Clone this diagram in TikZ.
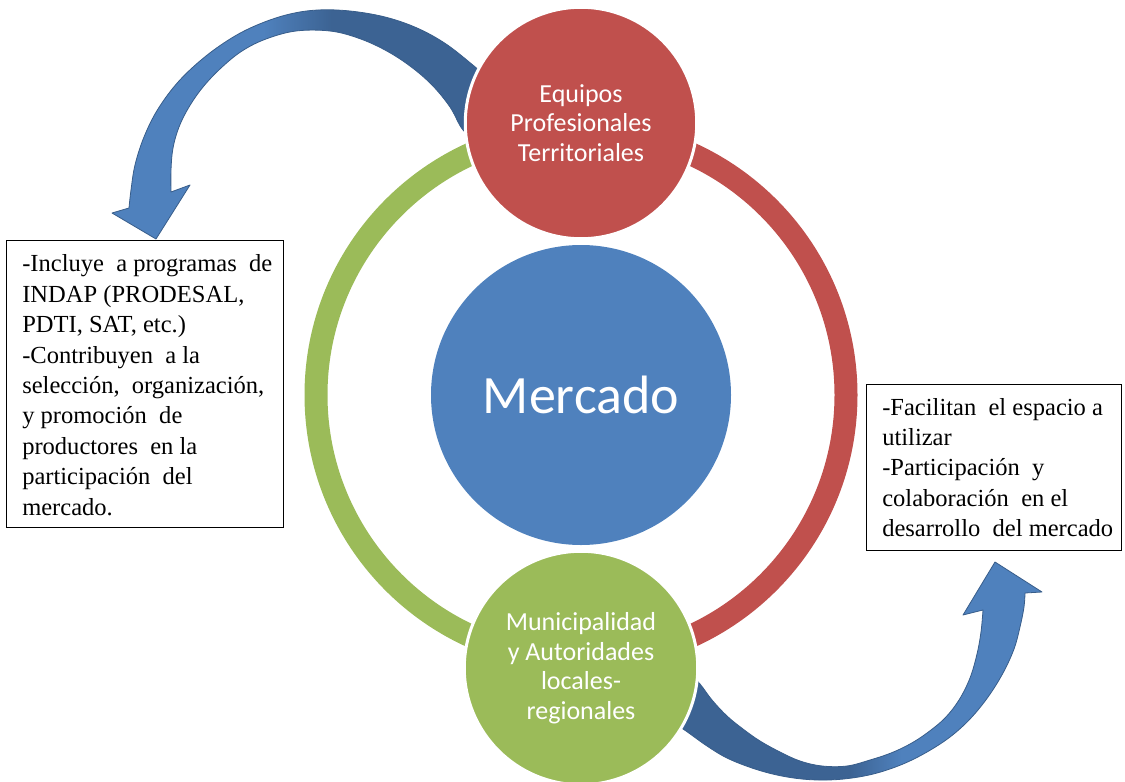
\documentclass[tikz,border=0pt]{standalone}
\usepackage{fontspec}
\setmainfont{Liberation Serif}
\newfontfamily\calibri{Carlito}
\newfontfamily\notefont{Liberation Serif}
\definecolor{ringred}{HTML}{C0504D}
\definecolor{ringgreen}{HTML}{9BBB59}
\definecolor{hubblue}{HTML}{4F81BD}
\definecolor{arrowdark}{HTML}{3C6393}
\definecolor{arrowedge}{HTML}{385D8A}
\pgfdeclarehorizontalshading{fadeleft}{100bp}{color(0bp)=(hubblue); color(45bp)=(hubblue); color(54bp)=(arrowdark); color(100bp)=(arrowdark)}
\pgfdeclarehorizontalshading{faderight}{100bp}{color(0bp)=(arrowdark); color(49bp)=(arrowdark); color(56bp)=(hubblue); color(100bp)=(hubblue)}
\begin{document}
\begin{tikzpicture}[x=0.75pt,y=0.75pt,yscale=-1,xscale=1,
	bubble/.style={circle,draw=white,line width=2.25pt,text=white,align=center,inner sep=0pt,font=\calibri\fontsize{19.5}{22.1}\selectfont},
	ringarc/.style={line width=17.25pt},
	notebox/.style={rectangle,draw=black,line width=1.1pt,inner sep=0pt,anchor=north west},
	notetext/.style={anchor=north west,inner sep=0pt,align=left,font=\notefont\fontsize{18.4}{22.8}\selectfont},
	bendarrow/.style={draw=arrowedge,line width=0.6pt,line join=round}]
	\useasboundingbox (0,0) rectangle (1125,782);

	\draw[ringarc,ringgreen] (581,395) ++(90:265) arc[start angle=90,end angle=270,radius=265];
	\draw[ringarc,ringred] (581,395) ++(-90:265) arc[start angle=-90,end angle=90,radius=265];

	\shadedraw[bendarrow,shading=fadeleft] plot[smooth,tension=0.6] coordinates {(490,80) (474,66) (446,44) (417,28) (385,17) (350,11) (318,10) (290,14) (262,23) (235,36) (206,56) (179,81) (158,109) (144,137) (135,165) (131,190) (129,208)}
		-- (112,213) -- (156,239) -- (190,185)
		-- plot[smooth,tension=0.6] coordinates {(171,192) (171,170) (173,148) (179,127) (189,107) (203,87) (221,68) (242,51) (266,39) (296,31) (330,31) (358,38) (385,50) (410,66) (432,85) (450,107) (463,130) (478,140)} -- cycle;
	\shadedraw[bendarrow,shading=faderight] plot[smooth,tension=0.6] coordinates {(672,722) (686,731) (707,746) (727,758) (752,768) (777,775) (802,779) (827,780) (852,778) (877,773) (903,764) (927,752) (950,737) (970,719) (988,697) (1003,673) (1014,649) (1020,627) (1024,607) (1025,593)}
		-- (1042,592) -- (995,562) -- (963,615)
		-- plot[smooth,tension=0.6] coordinates {(983,610) (981,632) (977,654) (970,678) (959,700) (945,718) (927,733) (910,744) (891,753) (870,760) (847,766) (822,766) (800,761) (780,752) (760,741) (743,729) (727,716) (712,700) (700,684) (688,672)} -- cycle;

	\draw (581,395) node (hub) [circle,fill=hubblue,minimum size=225pt,inner sep=0pt,text=white,font=\calibri\fontsize{40.5}{48}\selectfont] {Mercado};
	\draw (581,123) node (teams) [bubble,fill=ringred,minimum size=173.6pt] {Equipos\\Profesionales\\Territoriales};
	\draw (581,668) node (council) [bubble,fill=ringgreen,minimum size=175.1pt] {Municipalidad\\y Autoridades\\locales-\\regionales};

	\draw (6,240) node (leftnote) [notebox,minimum width=207.75pt,minimum height=215.25pt] {};
	\draw (866,384) node (rightnote) [notebox,minimum width=191.25pt,minimum height=124.5pt] {};
	\draw (22,250.3) node (lefttext) [notetext] {\strut-Incluye~ a programas~ de\\INDAP (PRODESAL,\\PDTI, SAT, etc.)\\-Contribuyen~ a la\\selección,~ organización,\\y promoción~ de\\productores~ en la\\participación~ del\\mercado.};
	\draw (882,393.6) node (righttext) [notetext] {\strut-Facilitan~ el espacio a\\utilizar\\-Participación~ y\\colaboración~ en el\\desarrollo~ del mercado};
\end{tikzpicture}
\end{document}
